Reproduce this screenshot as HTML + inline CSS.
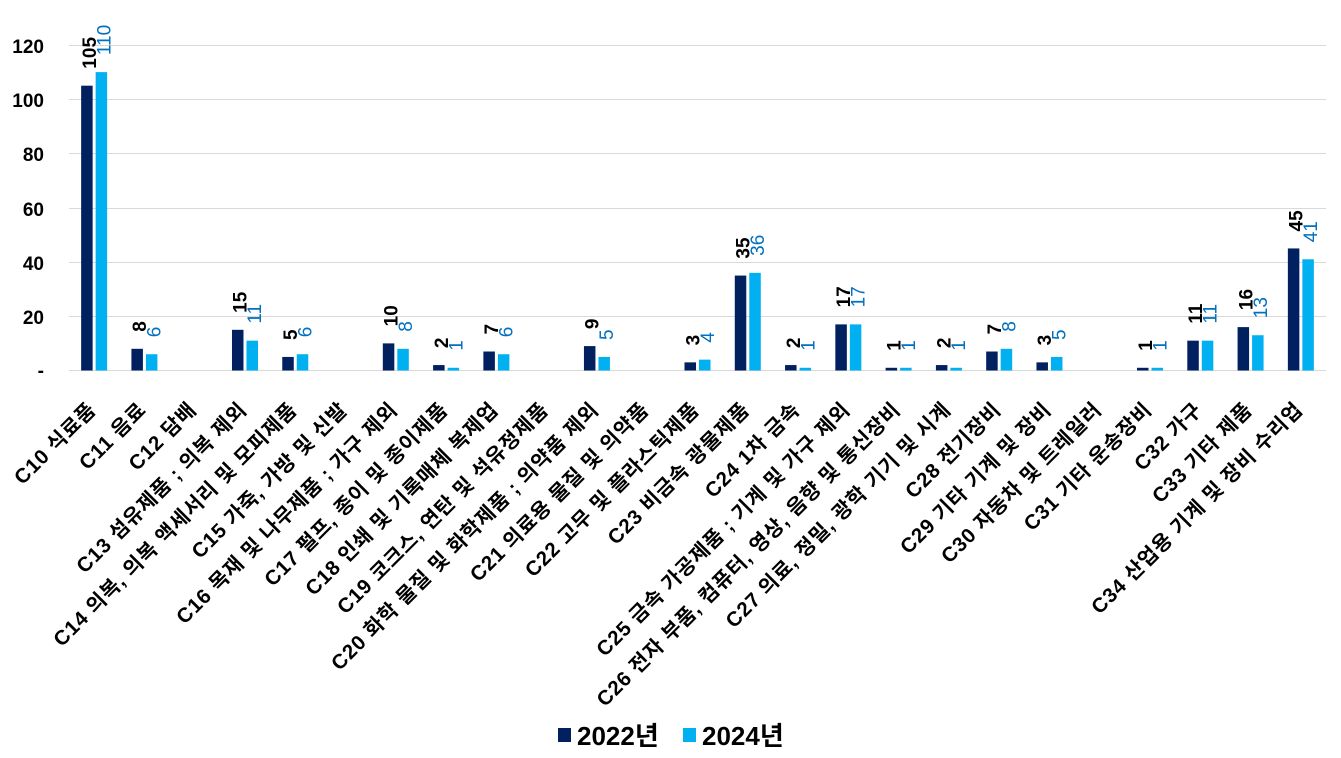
<!DOCTYPE html>
<html>
<head>
<meta charset="utf-8">
<style>
  html, body { margin:0; padding:0; background:#fff; }
  svg { display:block; }
  text { font-family: "Liberation Sans", "Noto Sans CJK KR", "NanumGothic", sans-serif; }
</style>
</head>
<body>
<svg width="1341" height="758" viewBox="0 0 1341 758" xmlns="http://www.w3.org/2000/svg">
  <!-- gridlines -->
  <g stroke="#d9d9d9" stroke-width="1">
    <line x1="69" y1="45.5" x2="1326" y2="45.5"/>
    <line x1="69" y1="99.5" x2="1326" y2="99.5"/>
    <line x1="69" y1="153.5" x2="1326" y2="153.5"/>
    <line x1="69" y1="208.5" x2="1326" y2="208.5"/>
    <line x1="69" y1="262.5" x2="1326" y2="262.5"/>
    <line x1="69" y1="316.5" x2="1326" y2="316.5"/>
    <line x1="69" y1="370.5" x2="1326" y2="370.5"/>
  </g>
  <!-- y axis labels -->
  <g font-size="19" font-weight="bold" fill="#000" text-anchor="end">
    <text x="44" y="53">120</text>
    <text x="44" y="107">100</text>
    <text x="44" y="161">80</text>
    <text x="44" y="216">60</text>
    <text x="44" y="270">40</text>
    <text x="44" y="324">20</text>
    <text x="44" y="377">-</text>
  </g>
  <g id="bars"></g>
  <g id="labels"></g>
  <g id="cats"></g>
  <!-- legend -->
  <rect x="558" y="728" width="13" height="14" fill="#002060"/>
  <text x="577" y="745" font-size="26" font-weight="bold" fill="#000">2022년</text>
  <rect x="683" y="728" width="13" height="14" fill="#00B0F0"/>
  <text x="702" y="745" font-size="26" font-weight="bold" fill="#000">2024년</text>
</svg>
<script>
(function(){
  var cats = ["C10 식료품","C11 음료","C12 담배","C13 섬유제품 ; 의복 제외","C14 의복, 의복 액세서리 및 모피제품","C15 가죽, 가방 및 신발","C16 목재 및 나무제품 ; 가구 제외","C17 펄프, 종이 및 종이제품","C18 인쇄 및 기록매체 복제업","C19 코크스, 연탄 및 석유정제품","C20 화학 물질 및 화학제품 ; 의약품 제외","C21 의료용 물질 및 의약품","C22 고무 및 플라스틱제품","C23 비금속 광물제품","C24 1차 금속","C25 금속 가공제품 ; 기계 및 가구 제외","C26 전자 부품, 컴퓨터, 영상, 음향 및 통신장비","C27 의료, 정밀, 광학 기기 및 시계","C28 전기장비","C29 기타 기계 및 장비","C30 자동차 및 트레일러","C31 기타 운송장비","C32 가구","C33 기타 제품","C34 산업용 기계 및 장비 수리업"];
  var a = [105,8,null,15,5,null,10,2,7,null,9,null,3,35,2,17,1,2,7,3,null,1,11,16,45];
  var b = [110,6,null,11,6,null,8,1,6,null,5,null,4,36,1,17,1,1,8,5,null,1,11,13,41];
  var ns="http://www.w3.org/2000/svg";
  var bars=document.getElementById("bars"), labels=document.getElementById("labels"), cg=document.getElementById("cats");
  var x0=69, cw=50.28, y0=370.5, k=2.7125, bw=11.5;
  function el(n,attrs,txt){var e=document.createElementNS(ns,n);for(var p in attrs)e.setAttribute(p,attrs[p]);if(txt!=null)e.textContent=txt;return e;}
  for(var i=0;i<cats.length;i++){
    var c=x0+cw*(i+0.5);
    if(a[i]!=null){
      var h=a[i]*k, x=c-13;
      bars.appendChild(el("rect",{x:x,y:y0-h,width:bw,height:h,fill:"#002060"}));
      labels.appendChild(el("text",{transform:"translate("+(x+bw/2+9)+","+(y0-h-17)+") rotate(-90)","font-size":"19","font-weight":"bold",fill:"#000"},String(a[i])));
    }
    if(b[i]!=null){
      var h2=b[i]*k, x2=c+1.5;
      bars.appendChild(el("rect",{x:x2,y:y0-h2,width:bw,height:h2,fill:"#00B0F0"}));
      labels.appendChild(el("text",{transform:"translate("+(x2+bw/2+9)+","+(y0-h2-17)+") rotate(-90)","font-size":"19",fill:"#0070C0"},String(b[i])));
    }
    cg.appendChild(el("text",{transform:"translate("+(c+3)+",411) rotate(-45)","text-anchor":"end","font-size":"20.5","font-weight":"bold","letter-spacing":"0.8",fill:"#000"},cats[i]));
  }
})();
</script>
</body>
</html>
